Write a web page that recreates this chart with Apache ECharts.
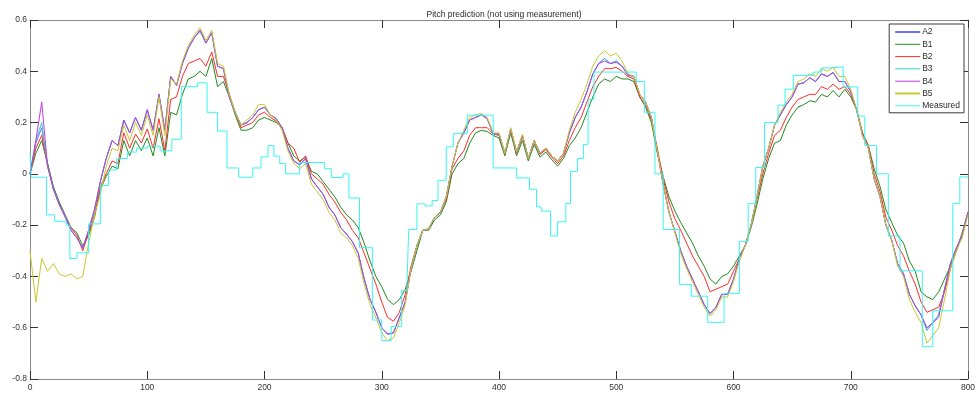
<!DOCTYPE html>
<html>
<head>
<meta charset="utf-8">
<script src="https://cdn.jsdelivr.net/npm/echarts@6/dist/echarts.min.js"></script>
<style>
  html, body { margin: 0; padding: 0; background: #fff; }
  #chart { width: 979px; height: 396px; }
</style>
</head>
<body>
<div id="chart"></div>
<script>
// samples every 5 units of x, from 0 to 800
const X_STEP = 5;

const a2 = [
  0.0, 0.12, 0.18, 0.04, -0.06, -0.12, -0.17, -0.22, -0.25, -0.29,
  -0.22, -0.14, -0.03, 0.06, 0.13, 0.11, 0.21, 0.16, 0.22, 0.17,
  0.25, 0.17, 0.31, 0.17, 0.38, 0.345, 0.43, 0.49, 0.53, 0.56,
  0.51, 0.55, 0.42, 0.41, 0.3, 0.24, 0.19, 0.2, 0.22, 0.25,
  0.26, 0.23, 0.215, 0.18, 0.1, 0.05, 0.035, 0.06, -0.02, -0.05,
  -0.08, -0.13, -0.16, -0.21, -0.235, -0.265, -0.31, -0.41, -0.49, -0.54,
  -0.6, -0.625, -0.62, -0.56, -0.5, -0.37, -0.28, -0.22, -0.215, -0.17,
  -0.15, -0.09, 0.03, 0.12, 0.16, 0.21, 0.22, 0.23, 0.215, 0.155,
  0.155, 0.08, 0.175, 0.085, 0.15, 0.06, 0.13, 0.08, 0.1, 0.07,
  0.05, 0.08, 0.16, 0.22, 0.26, 0.32, 0.39, 0.43, 0.45, 0.43,
  0.44, 0.42, 0.385, 0.38, 0.31, 0.28, 0.22, 0.09, -0.04, -0.15,
  -0.225, -0.3, -0.36, -0.41, -0.46, -0.51, -0.545, -0.52, -0.47, -0.47,
  -0.41, -0.33, -0.28, -0.2, -0.09, 0.03, 0.1, 0.19, 0.23, 0.27,
  0.3, 0.35, 0.355, 0.375, 0.36, 0.39, 0.38, 0.395, 0.36, 0.36,
  0.32, 0.25, 0.15, 0.1, -0.02, -0.09, -0.2, -0.26, -0.35, -0.39,
  -0.47, -0.515, -0.55, -0.61, -0.58, -0.55, -0.45, -0.35, -0.29, -0.24,
  -0.15
];

const b1 = [
  0.0, 0.08, 0.13, 0.04, -0.05, -0.11, -0.16, -0.21, -0.23, -0.28,
  -0.24, -0.17, -0.06, -0.01, 0.03, 0.02, 0.13, 0.07, 0.13, 0.09,
  0.14, 0.07, 0.18, 0.07, 0.24, 0.23, 0.31, 0.37, 0.38, 0.4,
  0.38, 0.45, 0.34, 0.36, 0.3, 0.23, 0.17, 0.17, 0.18, 0.21,
  0.22, 0.21, 0.2, 0.18, 0.12, 0.07, 0.05, 0.065, 0.01, 0.0,
  -0.03, -0.06, -0.09, -0.13, -0.16, -0.18, -0.21, -0.27, -0.34, -0.4,
  -0.44, -0.49, -0.51, -0.49, -0.45, -0.38, -0.3, -0.22, -0.22, -0.18,
  -0.16, -0.11, 0.0, 0.04, 0.06, 0.12, 0.16, 0.17, 0.165, 0.15,
  0.14, 0.07, 0.16, 0.07, 0.13, 0.05, 0.115, 0.065, 0.085, 0.055,
  0.03, 0.06, 0.11, 0.14, 0.18, 0.24, 0.3, 0.35, 0.37, 0.36,
  0.38, 0.37, 0.37, 0.36, 0.3, 0.26, 0.2, 0.08, -0.01, -0.09,
  -0.145, -0.19, -0.23, -0.27, -0.32, -0.36, -0.41, -0.43, -0.4, -0.39,
  -0.36, -0.32, -0.28, -0.21, -0.12, -0.02, 0.06, 0.12, 0.13, 0.19,
  0.23, 0.26, 0.27, 0.285, 0.28, 0.31, 0.3, 0.325, 0.3, 0.33,
  0.3, 0.25, 0.16, 0.11, 0.02, -0.05, -0.14, -0.19, -0.24, -0.27,
  -0.34, -0.38, -0.46, -0.48, -0.49, -0.46, -0.41, -0.36, -0.3, -0.23,
  -0.15
];

const b2 = [
  0.0, 0.1, 0.15, 0.03, -0.06, -0.12, -0.165, -0.21, -0.24, -0.3,
  -0.23, -0.16, -0.05, 0.0, 0.05, 0.04, 0.16, 0.1, 0.155, 0.12,
  0.175, 0.1, 0.215, 0.09, 0.29, 0.3, 0.38, 0.43, 0.44, 0.45,
  0.42, 0.475, 0.38, 0.38, 0.31, 0.24, 0.18, 0.19, 0.2, 0.23,
  0.24, 0.22, 0.205, 0.18, 0.12, 0.1, 0.045, 0.07, 0.0, -0.02,
  -0.04, -0.08, -0.11, -0.15, -0.18, -0.22, -0.25, -0.31, -0.37, -0.43,
  -0.5, -0.56, -0.575, -0.54, -0.47, -0.36, -0.28, -0.22, -0.215, -0.17,
  -0.15, -0.1, 0.02, 0.06, 0.09, 0.15, 0.18, 0.18, 0.18, 0.155,
  0.15, 0.08, 0.17, 0.08, 0.145, 0.06, 0.125, 0.075, 0.095, 0.065,
  0.04, 0.07, 0.13, 0.18, 0.22, 0.28, 0.34, 0.38, 0.41, 0.41,
  0.415, 0.4, 0.38, 0.37, 0.3, 0.27, 0.21, 0.1, -0.02, -0.11,
  -0.175, -0.22, -0.27, -0.32, -0.36, -0.4, -0.46, -0.45, -0.44, -0.43,
  -0.38, -0.33, -0.28, -0.2, -0.1, 0.0, 0.08, 0.15, 0.17, 0.22,
  0.26, 0.29, 0.3, 0.31, 0.31, 0.34, 0.33, 0.35, 0.33, 0.34,
  0.31, 0.25, 0.16, 0.11, 0.0, -0.07, -0.17, -0.22, -0.28, -0.32,
  -0.38, -0.43, -0.5, -0.54, -0.53, -0.52, -0.46, -0.37, -0.3, -0.24,
  -0.15
];

const b3 = [
  0.0, 0.13, 0.2, 0.03, -0.06, -0.12, -0.165, -0.22, -0.25, -0.29,
  -0.22, -0.14, -0.03, 0.06, 0.13, 0.11, 0.21, 0.16, 0.22, 0.17,
  0.25, 0.17, 0.31, 0.17, 0.38, 0.345, 0.43, 0.49, 0.53, 0.555,
  0.51, 0.55, 0.42, 0.41, 0.3, 0.24, 0.19, 0.2, 0.22, 0.25,
  0.26, 0.23, 0.215, 0.18, 0.1, 0.05, 0.035, 0.06, -0.02, -0.05,
  -0.08, -0.13, -0.16, -0.21, -0.235, -0.265, -0.31, -0.41, -0.49, -0.54,
  -0.6, -0.625, -0.62, -0.56, -0.5, -0.37, -0.28, -0.22, -0.215, -0.17,
  -0.15, -0.09, 0.03, 0.12, 0.16, 0.21, 0.22, 0.23, 0.215, 0.155,
  0.155, 0.08, 0.175, 0.085, 0.15, 0.06, 0.13, 0.08, 0.1, 0.07,
  0.05, 0.08, 0.16, 0.22, 0.26, 0.32, 0.39, 0.43, 0.45, 0.43,
  0.44, 0.42, 0.385, 0.38, 0.31, 0.28, 0.22, 0.09, -0.04, -0.15,
  -0.225, -0.3, -0.36, -0.41, -0.46, -0.51, -0.545, -0.52, -0.47, -0.47,
  -0.41, -0.33, -0.28, -0.2, -0.09, 0.03, 0.1, 0.19, 0.23, 0.27,
  0.3, 0.35, 0.355, 0.375, 0.36, 0.39, 0.38, 0.395, 0.36, 0.36,
  0.32, 0.25, 0.15, 0.1, -0.02, -0.09, -0.2, -0.26, -0.35, -0.39,
  -0.47, -0.515, -0.55, -0.61, -0.58, -0.55, -0.45, -0.35, -0.29, -0.24,
  -0.15
];

const b4 = [
  0.0, 0.13, 0.28, 0.03, -0.06, -0.12, -0.165, -0.22, -0.25, -0.29,
  -0.22, -0.14, -0.03, 0.06, 0.13, 0.11, 0.21, 0.16, 0.22, 0.17,
  0.25, 0.17, 0.31, 0.17, 0.38, 0.345, 0.43, 0.49, 0.53, 0.56,
  0.51, 0.55, 0.42, 0.41, 0.3, 0.24, 0.19, 0.2, 0.22, 0.25,
  0.26, 0.23, 0.215, 0.18, 0.1, 0.05, 0.035, 0.06, -0.02, -0.05,
  -0.08, -0.13, -0.16, -0.21, -0.235, -0.265, -0.31, -0.41, -0.49, -0.54,
  -0.6, -0.625, -0.62, -0.56, -0.5, -0.37, -0.28, -0.22, -0.215, -0.17,
  -0.15, -0.09, 0.03, 0.12, 0.16, 0.21, 0.22, 0.23, 0.215, 0.155,
  0.155, 0.08, 0.175, 0.085, 0.15, 0.06, 0.13, 0.08, 0.1, 0.07,
  0.05, 0.08, 0.16, 0.22, 0.26, 0.32, 0.39, 0.43, 0.44, 0.43,
  0.435, 0.42, 0.385, 0.38, 0.31, 0.28, 0.22, 0.09, -0.04, -0.15,
  -0.225, -0.3, -0.36, -0.41, -0.46, -0.51, -0.545, -0.52, -0.47, -0.47,
  -0.41, -0.33, -0.28, -0.2, -0.09, 0.03, 0.1, 0.19, 0.23, 0.27,
  0.3, 0.35, 0.355, 0.375, 0.36, 0.39, 0.38, 0.395, 0.36, 0.36,
  0.32, 0.25, 0.15, 0.1, -0.02, -0.09, -0.2, -0.26, -0.35, -0.39,
  -0.47, -0.515, -0.55, -0.6, -0.58, -0.56, -0.45, -0.35, -0.29, -0.24,
  -0.15
];

const b5 = [
  -0.3, -0.5, -0.33, -0.38, -0.35, -0.39, -0.4, -0.39, -0.41, -0.4,
  -0.27, -0.16, -0.08, 0.03, 0.1, 0.09, 0.19, 0.13, 0.2, 0.15,
  0.23, 0.15, 0.3, 0.15, 0.37, 0.35, 0.44, 0.5, 0.54, 0.57,
  0.52, 0.56, 0.43, 0.42, 0.31, 0.24, 0.19, 0.21, 0.23, 0.27,
  0.27, 0.23, 0.21, 0.17, 0.09, 0.04, 0.02, 0.04, -0.04, -0.07,
  -0.1, -0.15, -0.18, -0.23, -0.25, -0.28, -0.33, -0.43, -0.51, -0.56,
  -0.62, -0.65, -0.64, -0.58, -0.51, -0.37, -0.28, -0.22, -0.215, -0.17,
  -0.15, -0.09, 0.03, 0.12, 0.17, 0.22, 0.23, 0.235, 0.22, 0.16,
  0.16, 0.08, 0.18, 0.085, 0.155, 0.06, 0.13, 0.08, 0.1, 0.07,
  0.05, 0.08, 0.17, 0.24, 0.29, 0.35, 0.42, 0.46, 0.48, 0.46,
  0.47, 0.44, 0.39, 0.38, 0.31, 0.28, 0.22, 0.09, -0.04, -0.15,
  -0.23, -0.31, -0.37, -0.42, -0.47, -0.52, -0.555, -0.53, -0.48, -0.48,
  -0.42, -0.34, -0.28, -0.2, -0.09, 0.03, 0.1, 0.19, 0.24, 0.28,
  0.31, 0.36, 0.37, 0.39, 0.38, 0.41, 0.4, 0.415, 0.38, 0.38,
  0.33, 0.25, 0.15, 0.1, -0.02, -0.09, -0.2, -0.26, -0.36, -0.4,
  -0.49, -0.54, -0.58, -0.66, -0.63, -0.6, -0.49, -0.37, -0.3, -0.25,
  -0.16
];

// measured pitch is held between samples: [x where a new value starts, value]
const measured = [
  [0, 0.08], [1, -0.013], [14, -0.16], [21, -0.185], [31, -0.2], [34, -0.33],
  [40, -0.308], [50, -0.195], [60, -0.045], [67, 0.015], [74, 0.06], [83, 0.085],
  [91, 0.1], [100, 0.108], [111, 0.09], [121, 0.135], [129, 0.34], [143, 0.355],
  [151, 0.24], [160, 0.167], [168, 0.023], [178, -0.013], [190, 0.023], [197, 0.066],
  [203, 0.11], [208, 0.069], [213, 0.04], [218, 0.0], [230, 0.044], [251, 0.02],
  [257, -0.014], [267, 0.0], [272, -0.094], [281, -0.288], [292, -0.57], [300, -0.65],
  [308, -0.595], [317, -0.455], [321.5, -0.43], [323, -0.217], [330, -0.117], [337, -0.125],
  [343, -0.104], [348, -0.025], [355, 0.105], [361, 0.157], [373, 0.229], [395, 0.023],
  [415, -0.016], [426, -0.06], [432, -0.129], [436, -0.145], [444, -0.242], [450, -0.187],
  [457, -0.116], [461, 0.01], [467, 0.06], [472, 0.115], [476, 0.29], [481, 0.397],
  [517, 0.36], [524, 0.24], [533, 0.0], [540, -0.217], [554, -0.431], [564, -0.477],
  [578, -0.579], [592, -0.466], [605, -0.264], [612.5, -0.116], [619, 0.025], [626.5, 0.2],
  [638, 0.268], [644, 0.33], [651, 0.384], [668, 0.397], [675, 0.413], [682, 0.417],
  [693.5, 0.339], [706, 0.225], [712, 0.11], [722, 0.0], [732, -0.242], [742, -0.378],
  [761, -0.674], [770, -0.534], [787, -0.116], [793, -0.012], [800, -0.012]
];

const seriesNames = ['A2', 'B1', 'B2', 'B3', 'B4', 'B5', 'Measured'];
const seriesColors = ['#6f6fff', '#1e8c1e', '#ff2a2a', '#30d2c8', '#c03ae0', '#c8c830', '#38f4f4'];
const seriesValues = [a2, b1, b2, b3, b4, b5];

const xTicks = { min: 0, max: 800, interval: 100 };
const yTicks = { min: -0.8, max: 0.6, interval: 0.2 };

const FONT = 'Liberation Sans, Arial, Helvetica, sans-serif';

const toPairs = arr => arr.map((v, i) => [i * X_STEP, v]);

const chart = echarts.init(document.getElementById('chart'), null, { renderer: 'canvas' });

const series = seriesValues.map((vals, i) => ({
  name: seriesNames[i],
  type: 'line',
  xAxisIndex: 0,
  yAxisIndex: 0,
  data: toPairs(vals),
  symbol: 'none',
  lineStyle: { color: seriesColors[i], width: 1 },
  itemStyle: { color: seriesColors[i] },
  emphasis: { disabled: true },
  z: 2 + i
}));

series.push({
  name: 'Measured',
  type: 'line',
  xAxisIndex: 0,
  yAxisIndex: 0,
  step: 'end',
  data: measured,
  symbol: 'none',
  lineStyle: { color: seriesColors[6], width: 1 },
  itemStyle: { color: seriesColors[6] },
  emphasis: { disabled: true },
  z: 10
});

const axisLineStyle = { color: '#8a8a8a', width: 1 };
const tickStyle = { inside: true, length: 8, lineStyle: { color: '#333', width: 1 } };

const option = {
  animation: false,
  backgroundColor: '#fff',
  title: {
    text: 'Pitch prediction (not using measurement)',
    left: 499,
    textAlign: 'center',
    top: 5,
    textStyle: { fontFamily: FONT, fontSize: 8.5, fontWeight: 'normal', color: '#2b2b2b' }
  },
  legend: {
    orient: 'vertical',
    right: 15,
    top: 24,
    data: seriesNames.map(n => ({
      name: n,
      lineStyle: { width: (n === 'A2' || n === 'B5') ? 2 : 1 }
    })),
    itemWidth: 25,
    itemHeight: 10,
    itemGap: 2.3,
    itemStyle: { opacity: 0 },
    padding: [3, 4, 2, 5],
    backgroundColor: '#fff',
    borderColor: '#3a3a3a',
    borderWidth: 1,
    borderRadius: 0,
    textStyle: { fontFamily: FONT, fontSize: 8.5, color: '#2b2b2b', lineHeight: 10, padding: [0, 0, 0, -3] },
    selectedMode: false
  },
  grid: { left: 30, right: 11, top: 20, bottom: 17, containLabel: false },
  xAxis: [
    {
      type: 'value', position: 'bottom', ...xTicks,
      axisLine: { show: true, onZero: false, lineStyle: axisLineStyle },
      axisTick: tickStyle,
      axisLabel: { color: '#333', fontSize: 8.5, fontFamily: FONT, margin: 4 },
      splitLine: { show: false }
    },
    {
      type: 'value', position: 'top', ...xTicks,
      axisLine: { show: true, onZero: false, lineStyle: axisLineStyle },
      axisTick: tickStyle,
      axisLabel: { show: false },
      splitLine: { show: false }
    }
  ],
  yAxis: [
    {
      type: 'value', position: 'left', ...yTicks,
      axisLine: { show: true, onZero: false, lineStyle: axisLineStyle },
      axisTick: tickStyle,
      axisLabel: {
        color: '#333', fontSize: 8.5, fontFamily: FONT, margin: 3,
        formatter: v => (Math.abs(v) < 1e-9 ? '0' : v.toFixed(1))
      },
      splitLine: { show: false }
    },
    {
      type: 'value', position: 'right', ...yTicks,
      axisLine: { show: true, onZero: false, lineStyle: axisLineStyle },
      axisTick: tickStyle,
      axisLabel: { show: false },
      splitLine: { show: false }
    }
  ],
  series: series
};

chart.setOption(option);
</script>
</body>
</html>
